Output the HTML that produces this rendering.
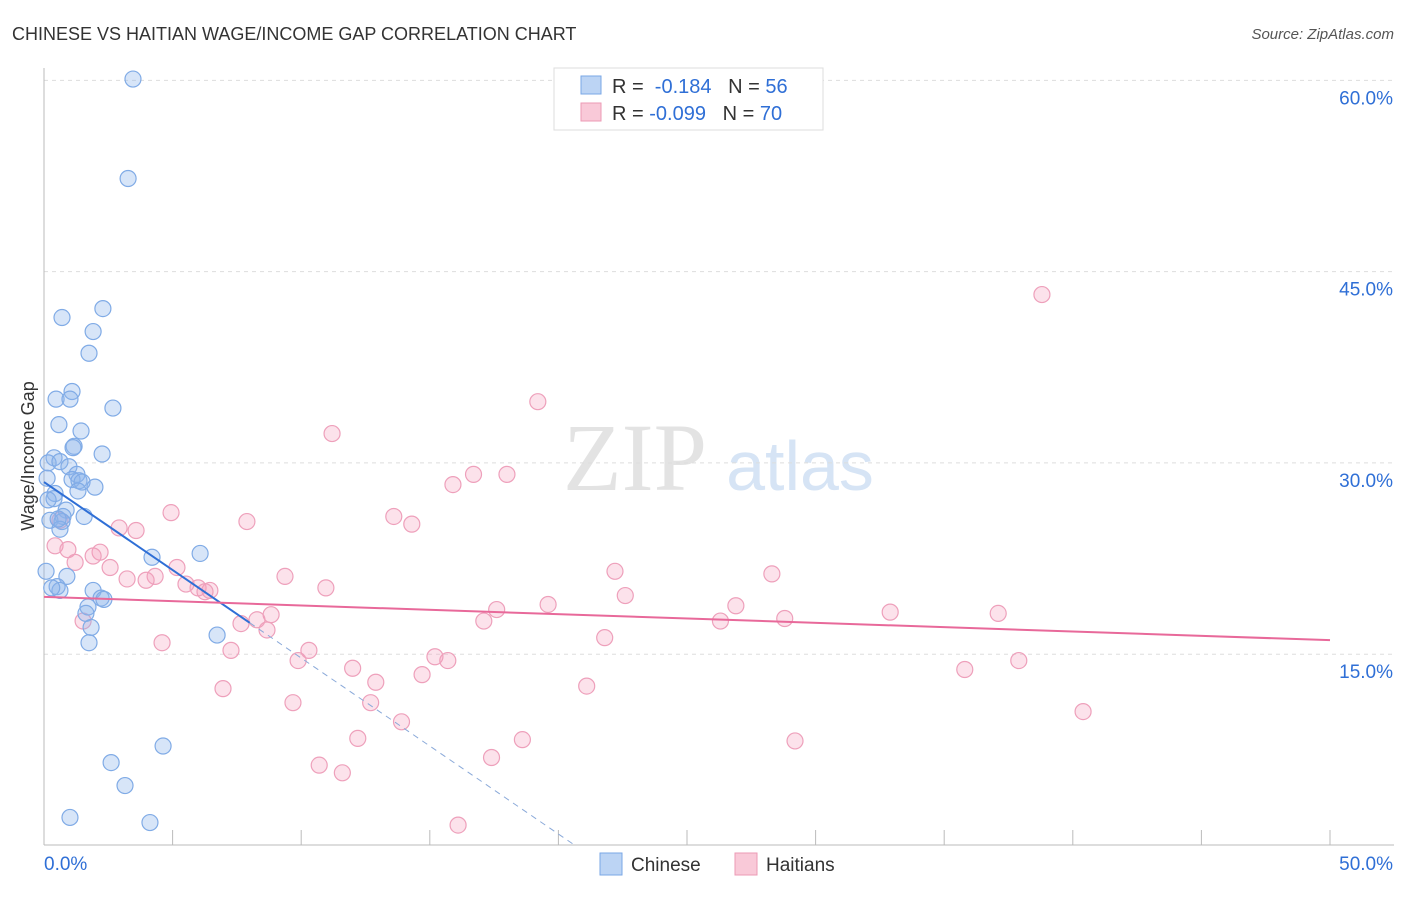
<!DOCTYPE html>
<html><head><meta charset="utf-8">
<style>
body{margin:0;background:#fff;font-family:"Liberation Sans",sans-serif;}
svg text{font-family:"Liberation Sans",sans-serif;}
</style></head>
<body>
<svg id="chart" width="1406" height="892" viewBox="0 0 1406 892" xmlns="http://www.w3.org/2000/svg">
<text x="12" y="40" font-size="18" fill="#333">CHINESE VS HAITIAN WAGE/INCOME GAP CORRELATION CHART</text>
<text x="1394" y="39" font-size="15" fill="#555" text-anchor="end" font-style="italic">Source: ZipAtlas.com</text>
<g>
<text x="635" y="490" font-size="96" fill="#e3e3e3" text-anchor="middle" font-family="Liberation Serif" style="font-family:'Liberation Serif',serif">ZIP</text>
<text x="800" y="490" font-size="70" fill="#d6e4f5" text-anchor="middle">atlas</text>
</g>
<g id="grid"></g>
<g id="axes"></g>
<g id="marks"></g>
<text transform="translate(34,456) rotate(-90)" font-size="18" fill="#333" text-anchor="middle">Wage/Income Gap</text>
<g>
<rect x="554" y="68" width="269" height="62" fill="#fff" stroke="#ddd"/>
<rect x="581" y="76" width="20" height="18" fill="#bcd4f4" stroke="#7aa7e6"/>
<rect x="581" y="103" width="20" height="18" fill="#f9c9d8" stroke="#ec9ab5"/>
<text x="612" y="93" font-size="20" fill="#333">R = <tspan fill="#2f6fd6">&#160;-0.184</tspan>&#160;&#160;&#160;N = <tspan fill="#2f6fd6">56</tspan></text>
<text x="612" y="120" font-size="20" fill="#333">R = <tspan fill="#2f6fd6">-0.099</tspan>&#160;&#160;&#160;N = <tspan fill="#2f6fd6">70</tspan></text>
</g>
<g>
<rect x="600" y="853" width="22" height="22" fill="#bcd4f4" stroke="#7aa7e6"/>
<text x="631" y="871" font-size="19" fill="#333">Chinese</text>
<rect x="735" y="853" width="22" height="22" fill="#f9c9d8" stroke="#ec9ab5"/>
<text x="766" y="871" font-size="19" fill="#333">Haitians</text>
</g>
</svg>
<script>
const xTickLabels=["0.0%","50.0%"];
const yTicks=[15,30,45,60];
const chineseX=[3.46,3.27,2.29,0.70,1.91,1.75,1.09,0.47,1.01,2.68,0.58,1.44,1.17,1.13,2.26,0.39,0.16,0.62,0.97,1.28,0.12,1.09,1.36,1.48,1.98,1.32,0.43,0.39,0.86,0.74,1.56,0.23,0.70,0.62,4.20,6.07,0.08,0.89,0.51,0.62,1.91,2.22,2.33,1.71,1.63,1.83,1.75,6.73,2.61,4.63,3.15,1.01,4.12,0.16,0.30,0.55];
const chineseY=[60.1,52.3,42.1,41.4,40.3,38.6,35.6,35.0,35.0,34.3,33.0,32.5,31.3,31.2,30.7,30.4,30.0,30.1,29.7,29.1,28.8,28.7,28.6,28.5,28.1,27.8,27.6,27.2,26.3,25.8,25.8,25.5,25.4,24.8,22.6,22.9,21.5,21.1,20.3,20.0,20.0,19.4,19.3,18.7,18.2,17.1,15.9,16.5,6.5,7.8,4.7,2.2,1.8,27.1,20.2,25.6];
const haitianX=[38.8,19.2,11.2,16.7,18.0,15.9,4.94,13.6,14.3,7.89,2.92,3.58,0.62,0.43,0.93,2.18,1.91,1.21,2.57,5.17,9.37,4.32,3.23,3.97,22.2,28.3,5.52,5.99,6.45,6.26,10.96,22.6,19.6,17.6,26.9,8.83,8.28,7.66,17.1,26.3,28.8,32.9,37.1,8.67,1.52,4.59,7.27,10.3,9.88,21.8,12.0,15.7,15.2,14.7,12.9,35.8,37.9,6.96,21.1,9.68,12.7,13.9,40.4,12.2,18.6,29.2,17.4,10.7,11.6,16.1];
const haitianY=[43.2,34.8,32.3,29.1,29.1,28.3,26.1,25.8,25.2,25.4,24.9,24.7,25.5,23.5,23.2,23.0,22.7,22.2,21.8,21.8,21.1,21.1,20.9,20.8,21.5,21.3,20.5,20.2,20.0,19.9,20.2,19.6,18.9,18.5,18.8,18.1,17.7,17.4,17.6,17.6,17.8,18.3,18.2,16.9,17.6,15.9,15.3,15.3,14.5,16.3,13.9,14.5,14.8,13.4,12.8,13.8,14.5,12.3,12.5,11.2,11.2,9.7,10.5,8.4,8.3,8.2,6.9,6.3,5.7,1.6];
const chineseTrend=[28.5,-1.38];
const haitianTrend=[19.5,16.1];
const X0=44,X1=1330,Y0=845.5,PXY=12.753;
const sx=v=>X0+(X1-X0)*v/50;
const sy=v=>Y0-v*PXY;
const NS="http://www.w3.org/2000/svg";
function mk(tag,attrs,parent){const e=document.createElementNS(NS,tag);for(const k in attrs)e.setAttribute(k,attrs[k]);parent.appendChild(e);return e;}
const grid=document.getElementById('grid'),axes=document.getElementById('axes'),marks=document.getElementById('marks');
yTicks.forEach(t=>{
  const l=mk('line',{x1:X0,x2:1394,y1:sy(t),y2:sy(t),stroke:'#ddd','stroke-dasharray':'4,4'},grid);
  
  
  const tx=mk('text',{x:1393,y:sy(t)+24,'font-size':19,fill:'#2f6fd6','text-anchor':'end'},axes);
  tx.textContent=t.toFixed(1)+'%';
  
  
});
const ax=mk('line',{x1:X0,x2:1394,y1:845,y2:845,stroke:'#bbb'},axes);


const ay=mk('line',{x1:X0,x2:X0,y1:68,y2:845,stroke:'#bbb'},axes);


for(let i=0;i<=10;i++){
  const t=mk('line',{x1:sx(i*5),x2:sx(i*5),y1:830,y2:845,stroke:'#bbb'},axes);
  
  
}
[[0,'start',44],[50,'end',1393]].forEach((d,i)=>{
  const tx=mk('text',{x:d[2],y:870,'font-size':19,fill:'#2f6fd6','text-anchor':d[1]},axes);
  tx.textContent=xTickLabels[i];
  
  
});
haitianX.forEach((x,i)=>{
  const c=mk('circle',{cx:sx(x),cy:sy(haitianY[i]),r:8,fill:'rgba(244,160,190,0.3)',stroke:'#eea0bb','stroke-width':1.2},marks);
  
  
});
chineseX.forEach((x,i)=>{
  const c=mk('circle',{cx:sx(x),cy:sy(chineseY[i]),r:8,fill:'rgba(140,180,235,0.35)',stroke:'#80abe6','stroke-width':1.2},marks);
  
  
});
const cEnd=8, cZero=-chineseTrend[0]/chineseTrend[1];
const t1=mk('line',{x1:sx(0),y1:sy(chineseTrend[0]),x2:sx(cEnd),y2:sy(chineseTrend[0]+chineseTrend[1]*cEnd),stroke:'#2f6fd6','stroke-width':2},marks);


const t2=mk('line',{x1:sx(cEnd),y1:sy(chineseTrend[0]+chineseTrend[1]*cEnd),x2:sx(cZero),y2:sy(0),stroke:'#8aa9d9','stroke-width':1,'stroke-dasharray':'6,5'},marks);


const t3=mk('line',{x1:sx(0),y1:sy(haitianTrend[0]),x2:sx(50),y2:sy(haitianTrend[1]),stroke:'#e8699a','stroke-width':2},marks);


</script>
</body></html>
